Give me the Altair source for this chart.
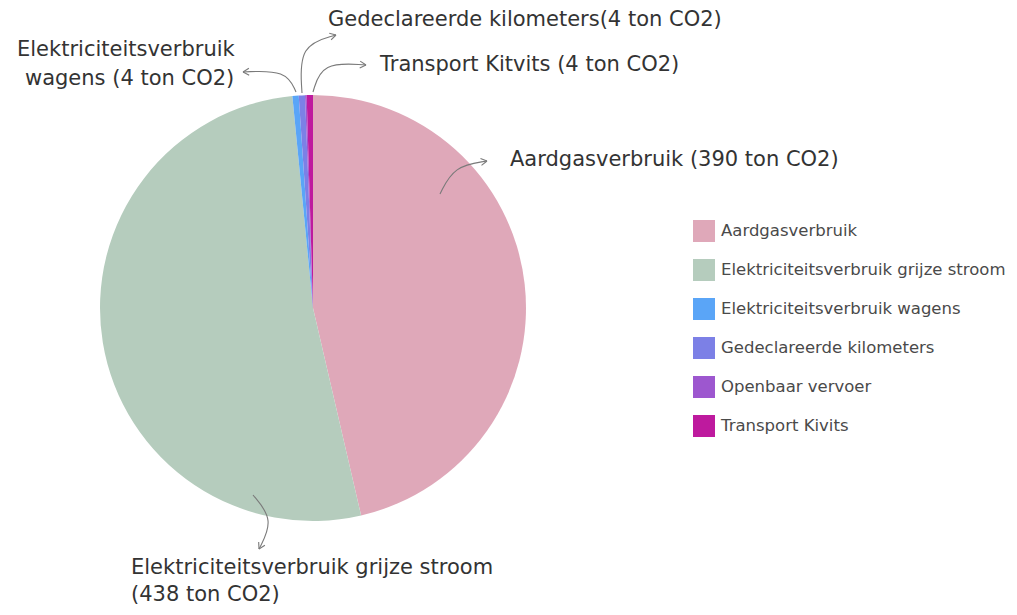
import math
import pandas as pd
import altair as alt

# ---- data ----
categories = [
    "Aardgasverbruik",
    "Elektriciteitsverbruik grijze stroom",
    "Elektriciteitsverbruik wagens",
    "Gedeclareerde kilometers",
    "Openbaar vervoer",
    "Transport Kivits",
]
values = [390, 438, 4, 4, 1, 4]
colors = ["#dfa8b9", "#b5ccbd", "#5aa5f7", "#7c80e6", "#9d57cf", "#be1a9e"]

label_texts = [
    "Gedeclareerde kilometers(4 ton CO2)",
    "Transport Kitvits (4 ton CO2)",
    "Elektriciteitsverbruik",
    "wagens (4 ton CO2)",
    "Aardgasverbruik (390 ton CO2)",
    "Elektriciteitsverbruik grijze stroom",
    "(438 ton CO2)",
]

# ---- layout (annotation positions, pixels) ----
CX, CY, R = 305, 300, 213
label_x = [320, 372, 9, 17, 502, 123, 123]
label_y = [12, 57, 42, 71, 152, 560, 587]

arrow_paths = {
    "aardgas": [(432, 186), (446, 158), (479, 153)],
    "grijs": [(245, 487), (266, 512), (251, 541)],
    "wagens": [(288, 84), (278, 62), (235, 64)],
    "gedecl": [(294, 85), (291, 37), (328, 27)],
    "kivits": [(305, 84), (314, 54), (358, 57)],
}

FONT = "DejaVu Sans"

df = pd.DataFrame({"category": categories, "value": values, "idx": list(range(len(categories)))})

pie = alt.Chart(df).mark_arc(radius=R).encode(
    theta=alt.Theta("value:Q", stack=True),
    color=alt.Color(
        "category:N",
        sort=categories,
        scale=alt.Scale(domain=categories, range=colors),
        legend=alt.Legend(
            title=None,
            orient="none",
            legendX=685,
            legendY=212,
            symbolType="square",
            symbolSize=484,
            symbolStrokeWidth=0,
            labelFontSize=16.5,
            labelFont=FONT,
            labelColor="#4a4a4a",
            labelOffset=6,
            rowPadding=17,
            padding=0,
            labelLimit=400,
        ),
    ),
    order=alt.Order("idx:Q"),
    x=alt.value(CX),
    y=alt.value(CY),
)

# arrows
rows = []
head_rows = []
for name, pts in arrow_paths.items():
    for i, (px, py) in enumerate(pts):
        rows.append({"path": name, "o": i, "px": px, "py": py})
    (x1, y1), (x2, y2) = pts[-2], pts[-1]
    ang = math.atan2(y2 - y1, x2 - x1)
    L = 7
    for k, s in enumerate((1, -1)):
        a = ang + math.pi + s * math.radians(30)
        head_rows.append({"path": f"{name}_{k}", "o": 0, "px": x2, "py": y2})
        head_rows.append({"path": f"{name}_{k}", "o": 1, "px": x2 + L * math.cos(a), "py": y2 + L * math.sin(a)})

curves = alt.Chart(pd.DataFrame(rows)).mark_line(
    interpolate="basis", color="#7a7a7a", strokeWidth=1.1
).encode(
    x=alt.X("px:Q", scale=None, axis=None),
    y=alt.Y("py:Q", scale=None, axis=None),
    detail="path:N",
    order="o:Q",
)

heads = alt.Chart(pd.DataFrame(head_rows)).mark_line(
    color="#7a7a7a", strokeWidth=1.1
).encode(
    x=alt.X("px:Q", scale=None, axis=None),
    y=alt.Y("py:Q", scale=None, axis=None),
    detail="path:N",
    order="o:Q",
)

labels_df = pd.DataFrame({"text": label_texts, "px": label_x, "py": label_y})
labels = alt.Chart(labels_df).mark_text(
    align="left", baseline="middle", font=FONT, fontSize=21, color="#333333"
).encode(
    x=alt.X("px:Q", scale=None, axis=None),
    y=alt.Y("py:Q", scale=None, axis=None),
    text="text:N",
)

chart = alt.layer(pie, curves, heads, labels).properties(
    width=1001,
    height=599,
    padding=0,
    background="white",
    autosize=alt.AutoSizeParams(type="none"),
).configure_view(stroke=None)

chart.save("out.html", embed_options={"renderer": "svg", "actions": False})
